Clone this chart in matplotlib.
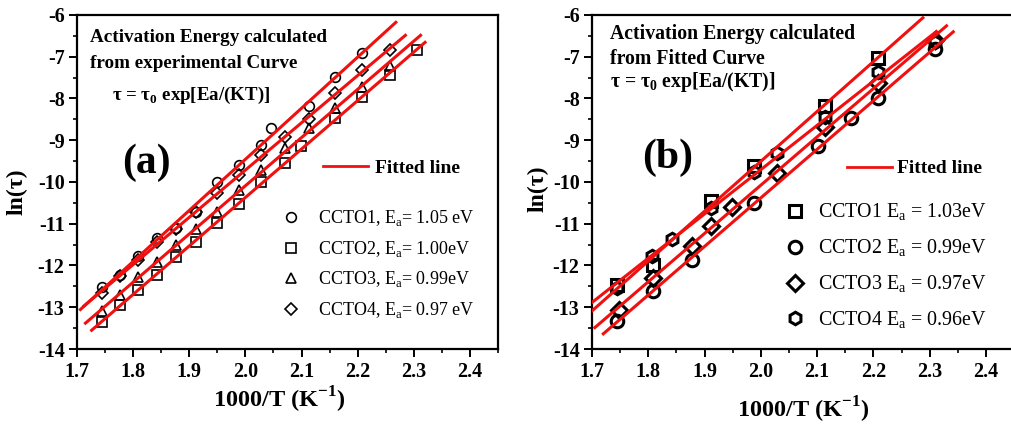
import matplotlib
matplotlib.use("Agg")
import matplotlib.pyplot as plt
from matplotlib.lines import Line2D
import numpy as np

plt.rcParams['font.family'] = ['Liberation Serif', 'DejaVu Serif']
plt.rcParams['font.weight'] = 'bold'
plt.rcParams['mathtext.fontset'] = 'custom'
plt.rcParams['mathtext.rm'] = 'Liberation Serif:weight=normal'
plt.rcParams['mathtext.bf'] = 'Liberation Serif:bold'
plt.rcParams['axes.unicode_minus'] = False

# (a) experimental curve, ln(tau) vs 1000/T
a_x1 = [1.745, 1.776, 1.808, 1.842, 1.876, 1.912, 1.949, 1.988, 2.028, 2.045, 2.114, 2.160, 2.208]
a_y1 = [-12.52, -12.23, -11.77, -11.33, -11.11, -10.71, -9.99, -9.59, -9.11, -8.71, -8.17, -7.49, -6.92]
a_x2 = [1.745, 1.776, 1.808, 1.842, 1.876, 1.912, 1.949, 1.988, 2.028, 2.070, 2.099, 2.160, 2.208, 2.258, 2.305]
a_y2 = [-13.35, -12.95, -12.59, -12.23, -11.80, -11.43, -10.99, -10.53, -9.99, -9.55, -9.15, -8.47, -7.97, -7.44, -6.84]
a_x3 = [1.745, 1.776, 1.808, 1.842, 1.876, 1.912, 1.949, 1.988, 2.028, 2.070, 2.114, 2.160, 2.208, 2.258]
a_y3 = [-13.10, -12.71, -12.28, -11.91, -11.51, -11.13, -10.71, -10.19, -9.71, -9.18, -8.71, -8.24, -7.73, -7.22]
a_x4 = [1.745, 1.776, 1.808, 1.842, 1.876, 1.912, 1.949, 1.988, 2.028, 2.070, 2.114, 2.160, 2.208, 2.258]
a_y4 = [-12.67, -12.26, -11.87, -11.43, -11.13, -10.73, -10.27, -9.83, -9.35, -8.93, -8.48, -7.88, -7.33, -6.84]
a_fit_range = [(1.706, 2.268), (1.726, 2.320), (1.715, 2.312), (1.712, 2.285)]
a_labels = [r'CCTO1, E$_\mathrm{a}$= 1.05 eV', r'CCTO2, E$_\mathrm{a}$= 1.00eV',
            r'CCTO3, E$_\mathrm{a}$= 0.99eV', r'CCTO4, E$_\mathrm{a}$= 0.97 eV']

# (b) fitted curve
b_x1 = [1.745, 1.808, 1.912, 1.988, 2.114, 2.208]
b_y1 = [-12.46, -11.98, -10.46, -9.62, -8.18, -7.02]
b_x2 = [1.745, 1.808, 1.877, 1.988, 2.102, 2.161, 2.208, 2.310]
b_y2 = [-13.34, -12.62, -11.86, -10.50, -9.14, -8.47, -7.98, -6.82]
b_x3 = [1.748, 1.808, 1.877, 1.912, 1.948, 2.028, 2.114, 2.208, 2.310]
b_y3 = [-13.06, -12.29, -11.54, -11.06, -10.60, -9.78, -8.68, -7.62, -6.60]
b_x4 = [1.745, 1.806, 1.842, 1.912, 1.988, 2.028, 2.114, 2.208, 2.310]
b_y4 = [-12.55, -11.78, -11.36, -10.62, -9.77, -9.30, -8.45, -7.36, -6.65]
b_fit_range = [(1.700, 2.288), (1.720, 2.342), (1.705, 2.330), (1.700, 2.312)]
b_labels = [r'CCTO1 E$_\mathrm{a}$ = 1.03eV', r'CCTO2 E$_\mathrm{a}$ = 0.99eV',
            r'CCTO3 E$_\mathrm{a}$ = 0.97eV', r'CCTO4 E$_\mathrm{a}$ = 0.96eV']

a_series = [(a_x1, a_y1), (a_x2, a_y2), (a_x3, a_y3), (a_x4, a_y4)]
b_series = [(b_x1, b_y1), (b_x2, b_y2), (b_x3, b_y3), (b_x4, b_y4)]
a_markers = ['o', 's', '^', 'D']
b_markers = ['s', 'o', 'D', 'h']
red = '#f01010'

fig = plt.figure(figsize=(10.11, 4.25), dpi=100)
ax_a = fig.add_axes([0.0762, 0.1788, 0.4164, 0.786])
ax_b = fig.add_axes([0.5856, 0.1788, 0.4174, 0.786])


def style_axes(ax):
    ax.set_xlim(1.7, 2.45)
    ax.set_ylim(-14, -6)
    ax.set_xticks(np.arange(1.7, 2.41, 0.1))
    ax.set_xticks(np.arange(1.7, 2.46, 0.05), minor=True)
    ax.set_yticks(np.arange(-14, -5.9, 1))
    ax.set_yticks(np.arange(-14, -5.9, 0.5), minor=True)
    ax.tick_params(which='major', direction='out', length=6, width=1.4, labelsize=14.5, pad=3)
    ax.tick_params(which='minor', direction='out', length=3, width=1.2)
    ax.tick_params(top=False, right=False)
    for sp in ax.spines.values():
        sp.set_linewidth(1.6)
    for lab in ax.get_xticklabels() + ax.get_yticklabels():
        lab.set_fontweight('bold')
    ax.set_ylabel('ln(τ)', fontsize=17, fontweight='bold')
    ax.set_xlabel(r'1000/T (K$^\mathbf{-1}$)', fontsize=17.5, fontweight='bold')


def draw_panel(ax, series, markers, fit_range, ms, mew):
    handles = []
    for (x, y), m, (x0, x1) in zip(series, markers, fit_range):
        k, c = np.polyfit(x, y, 1)
        ax.plot([x0, x1], [k * x0 + c, k * x1 + c], color=red, lw=2.2, zorder=3)
        size = ms * 0.85 if m == 'D' else ms
        ax.plot(x, y, linestyle='none', marker=m, ms=size,
                mfc='none', mec='black', mew=mew, zorder=2)
        handles.append(Line2D([], [], linestyle='none', marker=m, ms=size,
                              mfc='none', mec='black', mew=mew))
    return handles


# panel (a)
style_axes(ax_a)
h_a = draw_panel(ax_a, a_series, a_markers, a_fit_range, 7, 1.2)
ax_a.text(0.031, 0.934, 'Activation Energy calculated', transform=ax_a.transAxes,
          fontsize=13.8, fontweight='bold', va='center')
ax_a.text(0.031, 0.856, 'from experimental Curve', transform=ax_a.transAxes,
          fontsize=13.8, fontweight='bold', va='center')
ax_a.text(0.083, 0.76, 'τ = τ$_\\mathbf{0}$ exp[Ea/(KT)]', transform=ax_a.transAxes,
          fontsize=13.6, fontweight='bold', va='center')
ax_a.text(0.164, 0.557, '(a)', transform=ax_a.transAxes, fontsize=30,
          fontweight='bold', ha='center', va='center')
fit_a = ax_a.legend([Line2D([], [], color=red, lw=2.0)], ['Fitted line'],
                    loc='center left', bbox_to_anchor=(0.584, 0.542), frameon=False,
                    handlelength=2.3, handletextpad=0.36, borderpad=0, borderaxespad=0,
                    prop={'size': 14, 'weight': 'bold'})
ax_a.add_artist(fit_a)
ax_a.legend(h_a, a_labels, loc='center left', bbox_to_anchor=(0.487, 0.254),
            frameon=False, handlelength=1.0, handletextpad=1.0, borderpad=0,
            borderaxespad=0, labelspacing=0.58, prop={'size': 13, 'weight': 'normal'})
ax_a.yaxis.set_label_coords(-0.118, 0.47)
ax_a.xaxis.set_label_coords(0.48, -0.108)

# panel (b)
style_axes(ax_b)
h_b = draw_panel(ax_b, b_series, b_markers, b_fit_range, 9, 2.2)
ax_b.text(0.043, 0.942, 'Activation Energy calculated', transform=ax_b.transAxes,
          fontsize=14.2, fontweight='bold', va='center')
ax_b.text(0.043, 0.867, 'from Fitted Curve', transform=ax_b.transAxes,
          fontsize=14.2, fontweight='bold', va='center')
ax_b.text(0.043, 0.80, 'τ = τ$_\\mathbf{0}$ exp[Ea/(KT)]', transform=ax_b.transAxes,
          fontsize=14.2, fontweight='bold', va='center')
ax_b.text(0.18, 0.573, '(b)', transform=ax_b.transAxes, fontsize=30,
          fontweight='bold', ha='center', va='center')
fit_b = ax_b.legend([Line2D([], [], color=red, lw=2.0)], ['Fitted line'],
                    loc='center left', bbox_to_anchor=(0.604, 0.54), frameon=False,
                    handlelength=2.3, handletextpad=0.3, borderpad=0, borderaxespad=0,
                    prop={'size': 14, 'weight': 'bold'})
ax_b.add_artist(fit_b)
ax_b.legend(h_b, b_labels, loc='center left', bbox_to_anchor=(0.457, 0.2475),
            frameon=False, handlelength=1.0, handletextpad=0.65, borderpad=0,
            borderaxespad=0, labelspacing=0.72, prop={'size': 14.4, 'weight': 'normal'})
ax_b.yaxis.set_label_coords(-0.104, 0.48)
ax_b.xaxis.set_label_coords(0.50, -0.138)

fig.savefig('out.png', dpi=100)
